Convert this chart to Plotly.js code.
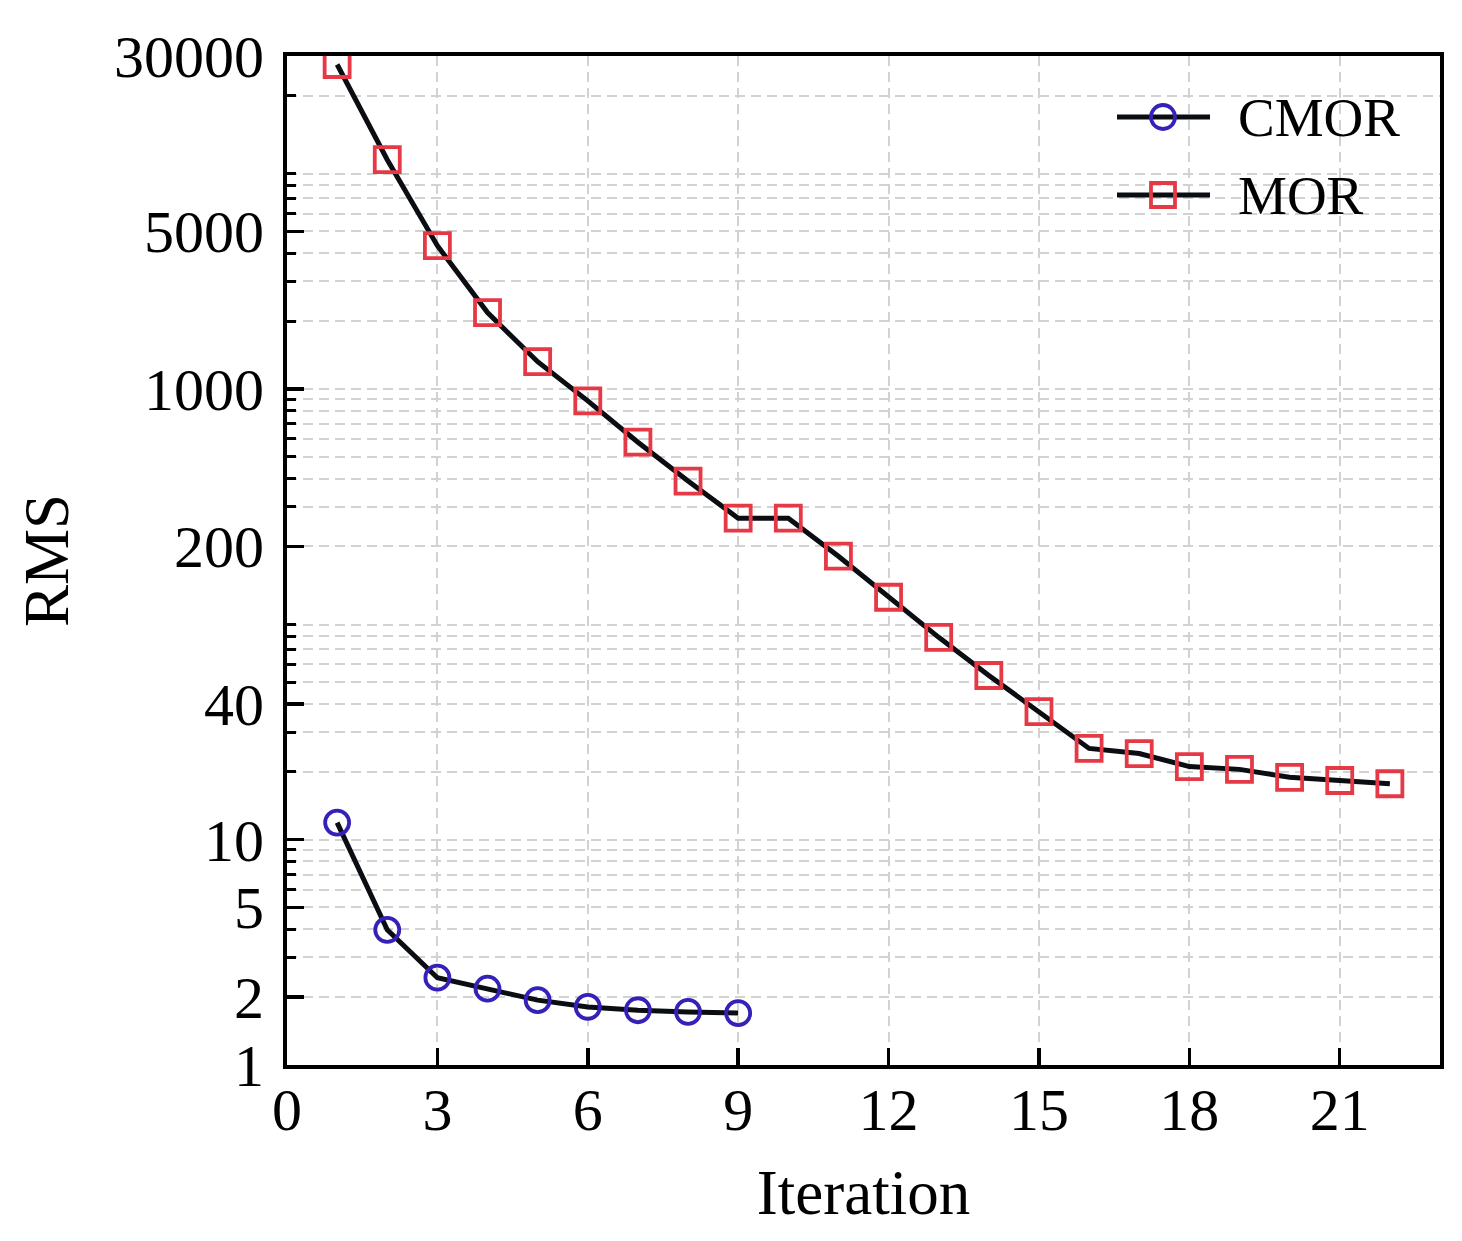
<!DOCTYPE html>
<html>
<head>
<meta charset="utf-8">
<script src="https://cdn.plot.ly/plotly-3.0.1.min.js"></script>
<style>
  body { margin: 0; background: #ffffff; }
  #chart { width: 1462px; height: 1241px; }
</style>
</head>
<body>
<div id="chart"></div>
<script>
// values
const cmorIter = [1, 2, 3, 4, 5, 6, 7, 8, 9];
const cmorRms = [11.9, 3.98, 2.44, 2.18, 1.94, 1.81, 1.75, 1.72, 1.7];

const morIter = [1, 2, 3, 4, 5, 6, 7, 8, 9, 10, 11, 12, 13, 14, 15, 16, 17, 18, 19, 20, 21, 22];
const morRms = [27500, 10400, 4320, 2180, 1320, 885, 580, 390, 267, 267, 181, 119, 79, 53.5, 37, 25.4, 24.1, 21.1, 20.5, 18.9, 18.3, 17.7];

const xTickVals = [0, 3, 6, 9, 12, 15, 18, 21];
const yTickVals = [1, 2, 5, 10, 40, 200, 1000, 5000, 30000];
const yTickText = ["1", "2", "5", "10", "40", "200", "1000", "5000", "30000"];
// minor ticks 2..9 per decade (100 and 10000 are not marked in the figure)
const yMinorVals = [3, 4, 6, 7, 8, 9,
  20, 30, 50, 60, 70, 80, 90,
  300, 400, 500, 600, 700, 800, 900,
  2000, 3000, 4000, 6000, 7000, 8000, 9000,
  20000];

const legendNames = ["CMOR", "MOR"];

const FONT = "Liberation Serif, Times New Roman, serif";
const BLUE = "#3421b8";
const RED = "#e63946";
const LINE = "#0a0d12";
const GRID = "#d2d2d2";

var data = [
  {
    name: legendNames[0],
    x: cmorIter,
    y: cmorRms,
    mode: "lines+markers",
    line: { color: LINE, width: 5 },
    marker: { symbol: "circle-open", size: 24, color: BLUE, line: { width: 3.8, color: BLUE } },
    showlegend: false,
  },
  {
    name: legendNames[1],
    x: morIter,
    y: morRms,
    mode: "lines+markers",
    line: { color: LINE, width: 5 },
    marker: { symbol: "square-open", size: 25, color: RED, line: { width: 3.8, color: RED } },
    showlegend: false,
  },
];

// hand-drawn legend (long line sample like the figure)
const plotL = 287, plotR = 1440, plotT = 56, plotB = 1065;
const px = (v) => (v - plotL) / (plotR - plotL);
const py = (v) => (plotB - v) / (plotB - plotT);
const legY = [117, 195];
var shapes = [];
var annotations = [];
legY.forEach((yy, i) => {
  shapes.push({
    type: "line", xref: "paper", yref: "paper",
    x0: px(1117), x1: px(1210), y0: py(yy), y1: py(yy),
    line: { color: LINE, width: 5 },
  });
  if (i === 0) {
    shapes.push({
      type: "circle", xref: "paper", yref: "paper",
      x0: px(1163 - 12), x1: px(1163 + 12), y0: py(yy + 12), y1: py(yy - 12),
      line: { color: BLUE, width: 3.8 }, fillcolor: "rgba(0,0,0,0)",
    });
  } else {
    shapes.push({
      type: "rect", xref: "paper", yref: "paper",
      x0: px(1163 - 12), x1: px(1163 + 12), y0: py(yy + 12), y1: py(yy - 12),
      line: { color: RED, width: 3.8 }, fillcolor: "rgba(0,0,0,0)",
    });
  }
  annotations.push({
    xref: "paper", yref: "paper",
    x: px(1236), y: py(yy),
    xanchor: "left", yanchor: "middle",
    text: legendNames[i], showarrow: false,
    font: { family: FONT, size: 55, color: "#000000" },
  });
});

var layout = {
  width: 1462,
  height: 1241,
  paper_bgcolor: "#ffffff",
  plot_bgcolor: "#ffffff",
  margin: { l: plotL, r: 1462 - plotR, t: plotT, b: 1241 - plotB },
  font: { family: FONT, size: 60, color: "#000000" },
  showlegend: false,
  xaxis: {
    range: [0, 23],
    tickmode: "array",
    tickvals: xTickVals,
    ticks: "inside",
    ticklen: 17,
    tickwidth: 3.5,
    tickcolor: "#000000",
    ticklabelstandoff: -11,
    showline: true,
    linewidth: 4,
    linecolor: "#000000",
    mirror: true,
    showgrid: true,
    gridcolor: GRID,
    gridwidth: 2,
    griddash: "10px,6px",
    zeroline: false,
    tickfont: { family: FONT, size: 60 },
    title: { text: "Iteration", font: { family: FONT, size: 63 }, standoff: 29 },
  },
  yaxis: {
    type: "log",
    range: [0, Math.log10(30000)],
    tickmode: "array",
    tickvals: yTickVals,
    ticktext: yTickText,
    ticks: "inside",
    ticklen: 17,
    tickwidth: 3.5,
    tickcolor: "#000000",
    ticklabelstandoff: 7,
    showline: true,
    linewidth: 4,
    linecolor: "#000000",
    mirror: true,
    showgrid: true,
    gridcolor: GRID,
    gridwidth: 2,
    griddash: "10px,6px",
    zeroline: false,
    tickfont: { family: FONT, size: 60 },
    minor: {
      tickmode: "array",
      tickvals: yMinorVals,
      ticks: "inside",
      ticklen: 9,
      tickwidth: 3,
      tickcolor: "#000000",
      showgrid: true,
      gridcolor: GRID,
      gridwidth: 2,
      griddash: "10px,6px",
    },
    title: { text: "RMS", font: { family: FONT, size: 63 }, standoff: 26 },
  },
  shapes: shapes,
  annotations: annotations,
};

Plotly.newPlot("chart", data, layout, { displayModeBar: false, staticPlot: true });
</script>
</body>
</html>
